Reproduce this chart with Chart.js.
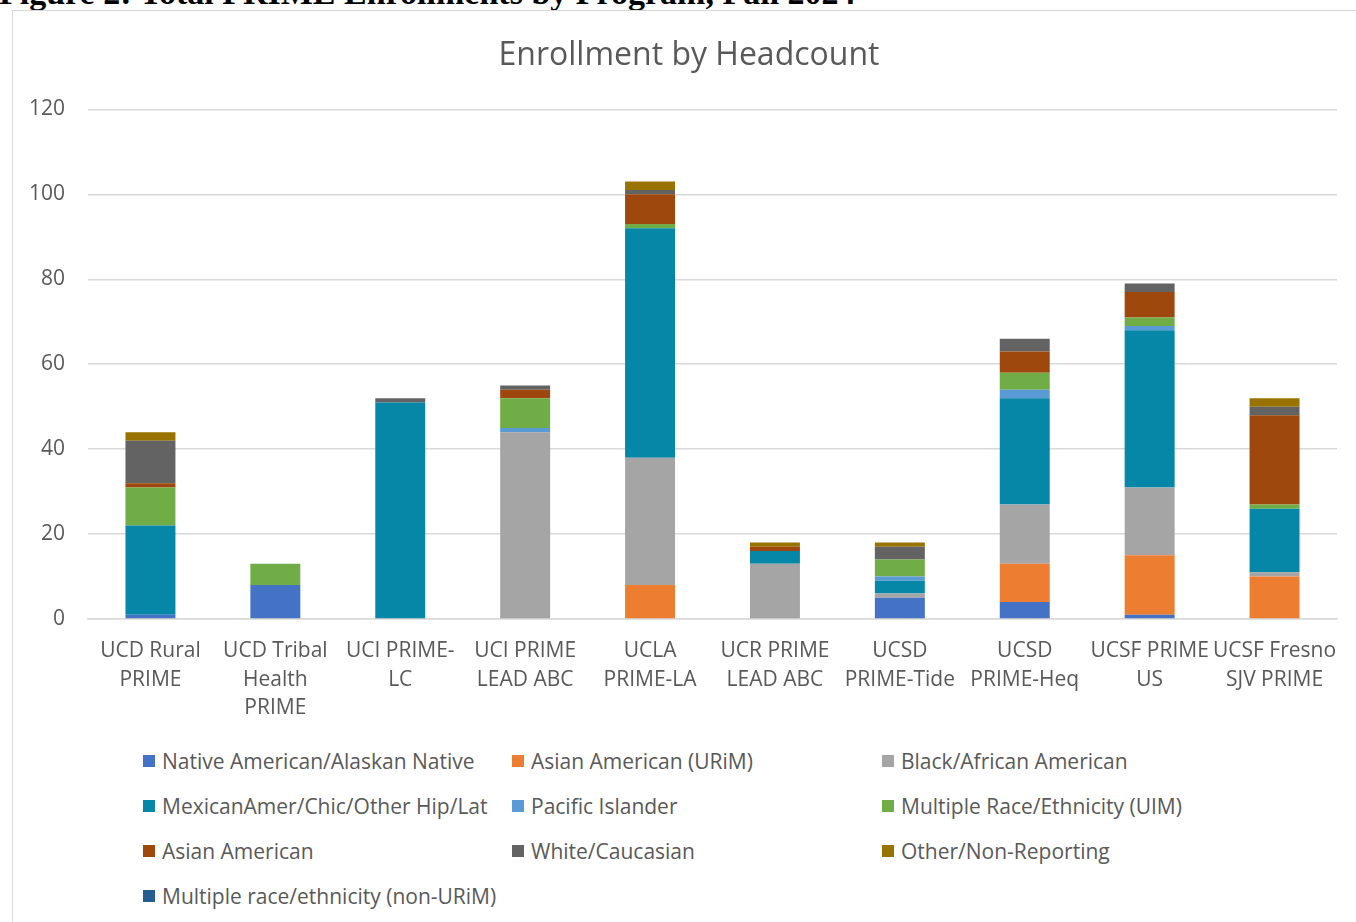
<!DOCTYPE html>
<html>
<head>
<meta charset="utf-8">
<script src="https://cdn.jsdelivr.net/npm/chart.js@4.4.1/dist/chart.umd.min.js"></script>
<style>
  html, body { margin: 0; padding: 0; background: #fff; width: 1356px; height: 922px; overflow: hidden; }
  #fig { position: absolute; left: -1px; top: -24px; font: bold 34px "Liberation Serif", serif; line-height: 1; white-space: nowrap; color: #000; }
  #frame { position: absolute; left: 12px; top: 10px; width: 1400px; height: 1000px; border: 1.5px solid #D9D9D9; box-sizing: border-box; }
  #wrap { position: absolute; left: 12px; top: 11px; width: 1354px; height: 729px; }
  #legend { position: absolute; left: 143px; top: 746px; display: grid; grid-template-columns: 369px 370px 400px; grid-auto-rows: 45px; font: 21px "Open Sans", sans-serif; color: #595959; }
  .li { display: flex; align-items: center; height: 30px; white-space: nowrap; }
  .sw { width: 12px; height: 12px; margin-right: 7px; flex: none; }
</style>
</head>
<body>
<div id="fig">Figure 2: Total PRIME Enrollments by Program, Fall 2024</div>
<div id="frame"></div>
<div id="wrap"><canvas id="c"></canvas></div>
<div id="legend"></div>
<script>
const categories = [
  ["UCD Rural", "PRIME"],
  ["UCD Tribal", "Health", "PRIME"],
  ["UCI PRIME-", "LC"],
  ["UCI PRIME", "LEAD ABC"],
  ["UCLA", "PRIME-LA"],
  ["UCR PRIME", "LEAD ABC"],
  ["UCSD", "PRIME-Tide"],
  ["UCSD", "PRIME-Heq"],
  ["UCSF PRIME", "US"],
  ["UCSF Fresno", "SJV PRIME"]
];
const seriesNames = [
  "Native American/Alaskan Native",
  "Asian American (URiM)",
  "Black/African American",
  "MexicanAmer/Chic/Other Hip/Lat",
  "Pacific Islander",
  "Multiple Race/Ethnicity (UIM)",
  "Asian American",
  "White/Caucasian",
  "Other/Non-Reporting",
  "Multiple race/ethnicity (non-URiM)"
];
const nativeAmerican   = [1, 8, 0, 0, 0, 0, 5, 4, 1, 0];
const asianURiM        = [0, 0, 0, 0, 8, 0, 0, 9, 14, 10];
const black            = [0, 0, 0, 44, 30, 13, 1, 14, 16, 1];
const mexicanAmer      = [21, 0, 51, 0, 54, 3, 3, 25, 37, 15];
const pacificIslander  = [0, 0, 0, 1, 0, 0, 1, 2, 1, 0];
const multipleUIM      = [9, 5, 0, 7, 1, 0, 4, 4, 2, 1];
const asianAmerican    = [1, 0, 0, 2, 7, 1, 0, 5, 6, 21];
const white            = [10, 0, 1, 1, 1, 0, 3, 3, 2, 2];
const otherNonReport   = [2, 0, 0, 0, 2, 1, 1, 0, 0, 2];
const multipleNonURiM  = [0, 0, 0, 0, 0, 0, 0, 0, 0, 0];
const yTicks = [0, 20, 40, 60, 80, 100, 120];

const seriesValues = [nativeAmerican, asianURiM, black, mexicanAmer, pacificIslander,
  multipleUIM, asianAmerican, white, otherNonReport, multipleNonURiM];
const colors = ["#4472C4", "#ED7D31", "#A5A5A5", "#0787A8", "#5B9BD5",
  "#70AD47", "#9E480E", "#636363", "#997300", "#255E91"];

const FONT = '"Open Sans", sans-serif';
const chart = new Chart(document.getElementById('c'), {
  type: 'bar',
  data: {
    labels: categories,
    datasets: seriesNames.map((n, i) => ({
      label: n,
      data: seriesValues[i],
      backgroundColor: colors[i],
      borderWidth: 0,
      categoryPercentage: 1,
      barPercentage: 0.4
    }))
  },
  options: {
    responsive: true,
    maintainAspectRatio: false,
    animation: false,
    devicePixelRatio: 1,
    layout: { padding: 0 },
    plugins: {
      legend: { display: false },
      tooltip: { enabled: false },
      title: {
        display: true,
        text: 'Enrollment by Headcount',
        color: '#595959',
        font: { family: FONT, size: 32, weight: 'normal' },
        padding: { top: 26, bottom: 34 }
      }
    },
    scales: {
      x: {
        stacked: true,
        grid: { display: false, drawTicks: false },
        border: { display: true, color: '#D9D9D9', width: 1.5 },
        ticks: {
          color: '#595959', font: { family: FONT, size: 21, lineHeight: 1.38 },
          padding: 17, maxRotation: 0, minRotation: 0, autoSkip: false
        }
      },
      y: {
        stacked: true,
        min: 0, max: 120,
        afterBuildTicks: s => { s.ticks = yTicks.map(v => ({ value: v })); },
        afterFit: s => { s.width = 76; },
        grid: { color: '#D9D9D9', lineWidth: 1.5, drawTicks: false },
        border: { display: false },
        ticks: { color: '#595959', font: { family: FONT, size: 21 }, padding: 23 }
      },
      yPad: {
        position: 'right',
        display: true,
        min: 0, max: 1,
        afterFit: s => { s.width = 29; },
        grid: { display: false, drawTicks: false },
        border: { display: false },
        ticks: { display: false }
      }
    }
  }
});

const lg = document.getElementById('legend');
chart.data.datasets.forEach(ds => {
  const d = document.createElement('div');
  d.className = 'li';
  const sw = document.createElement('span');
  sw.className = 'sw';
  sw.style.background = ds.backgroundColor;
  const t = document.createElement('span');
  t.textContent = ds.label;
  d.appendChild(sw); d.appendChild(t);
  lg.appendChild(d);
});
</script>
</body>
</html>
